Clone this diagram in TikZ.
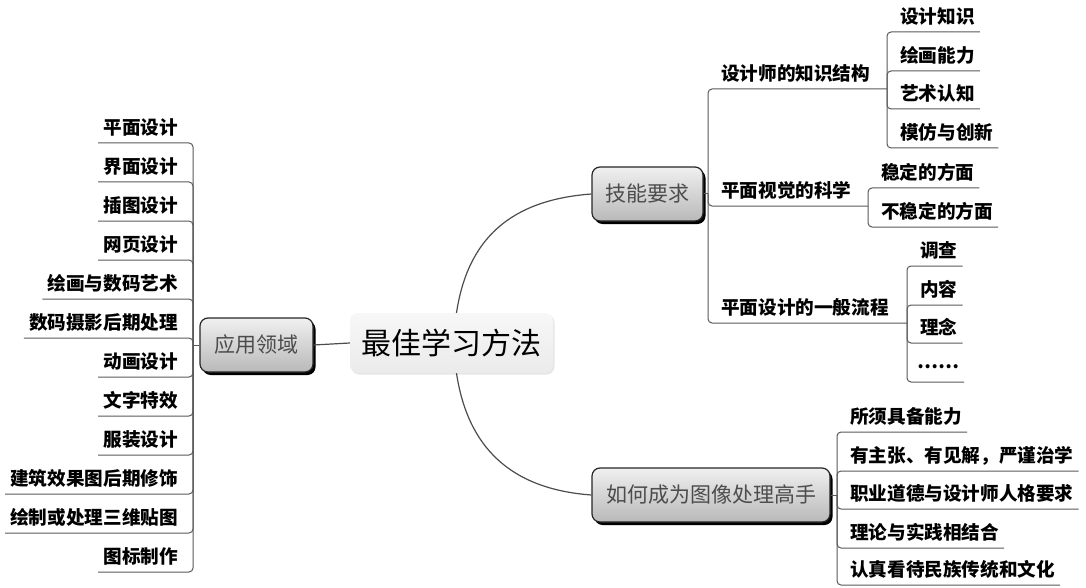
\documentclass[tikz,border=0pt]{standalone}
\usepackage{fontspec}
\newfontfamily\cjk{Noto Sans CJK SC}
\usetikzlibrary{shadows}
\tikzset{
  leaf/.style={font=\cjk\bfseries\fontsize{18.6}{20}\selectfont, inner xsep=5pt, inner ysep=4pt, text height=14pt, text depth=4pt},
  branch/.style={draw=black!65, line width=1pt, rounded corners=4pt},
  link/.style={draw=black!70, line width=1.2pt},
  topic/.style={font=\cjk\fontsize{21}{23}\selectfont, text=black!70, rounded corners=8pt, draw=black!85, line width=1.2pt,
    top color=gray!12, bottom color=gray!55, minimum height=54pt,
    drop shadow={shadow xshift=2.5pt, shadow yshift=-3pt, fill=black, opacity=1}},
  central/.style={font=\cjk\fontsize{30}{32}\selectfont, rounded corners=8pt, top color=gray!6, bottom color=gray!16,
    minimum width=203pt, minimum height=60pt,
    drop shadow={shadow xshift=1.5pt, shadow yshift=-1.5pt, opacity=.2}}
}
\begin{document}
\begin{tikzpicture}[x=1pt,y=-1pt]
  \useasboundingbox (0,0) rectangle (1086,588);
  \node[central] (zui) at (451.5,343) {最佳学习方法};
  \node[topic, minimum width=113pt] (yy) at (256.5,345) {应用领域};
  \node[topic, minimum width=111pt] (jn) at (647.5,194) {技能要求};
  \node[topic, minimum width=238pt] (gs) at (711,495) {如何成为图像处理高手};
  \draw[link] (yy.east) -- (zui.west);
  \draw[link] ([xshift=5pt]zui.north) .. controls +(11,-73) and +(-82,6) .. (jn.west);
  \draw[link] ([xshift=5pt]zui.south) .. controls +(11,73) and +(-82,-6) .. (gs.west);
  % 应用领域
  \coordinate (yyj) at (193,345);
  \node[leaf, anchor=south east] (a1) at (183,143) {平面设计};
  \node[leaf, anchor=south east] (a2) at (183,182) {界面设计};
  \node[leaf, anchor=south east] (a3) at (183,221) {插图设计};
  \node[leaf, anchor=south east] (a4) at (183,260) {网页设计};
  \node[leaf, anchor=south east] (a5) at (183,299) {绘画与数码艺术};
  \node[leaf, anchor=south east] (a6) at (183,338) {数码摄影后期处理};
  \node[leaf, anchor=south east] (a7) at (183,377) {动画设计};
  \node[leaf, anchor=south east] (a8) at (183,416) {文字特效};
  \node[leaf, anchor=south east] (a9) at (183,455) {服装设计};
  \node[leaf, anchor=south east] (a10) at (183,494) {建筑效果图后期修饰};
  \node[leaf, anchor=south east] (a11) at (183,533) {绘制或处理三维贴图};
  \node[leaf, anchor=south east] (a12) at (183,572) {图标制作};
  \draw[branch] (yy.west) -- (yyj);
  \draw[branch] (yyj) |- (a1.south west);
  \draw[branch] (yyj) |- (a2.south west);
  \draw[branch] (yyj) |- (a3.south west);
  \draw[branch] (yyj) |- (a4.south west);
  \draw[branch] (yyj) |- (a5.south west);
  \draw[branch] (yyj) |- (a6.south west);
  \draw[branch] (yyj) |- (a7.south west);
  \draw[branch] (yyj) |- (a8.south west);
  \draw[branch] (yyj) |- (a9.south west);
  \draw[branch] (yyj) |- (a10.south west);
  \draw[branch] (yyj) |- (a11.south west);
  \draw[branch] (yyj) |- (a12.south west);
  % 技能要求
  \coordinate (jnj) at (708,194);
  \coordinate (kj) at (887,89);
  \coordinate (vj) at (868,206);
  \coordinate (pj) at (907,323);
  \node[leaf, anchor=south west] (k) at (716,89) {设计师的知识结构};
  \node[leaf, anchor=south west] (v) at (716,206) {平面视觉的科学};
  \node[leaf, anchor=south west] (p) at (716,323) {平面设计的一般流程};
  \draw[branch] (jn.east) -- (jnj);
  \draw[branch] (jnj) |- (kj);
  \draw[branch] (jnj) |- (vj);
  \draw[branch] (jnj) |- (pj);
  \node[leaf, anchor=south west] (k1) at (895,32) {设计知识};
  \node[leaf, anchor=south west] (k2) at (895,71) {绘画能力};
  \node[leaf, anchor=south west] (k3) at (895,109) {艺术认知};
  \node[leaf, anchor=south west] (k4) at (895,148) {模仿与创新};
  \draw[branch] (kj) |- (k1.south east);
  \draw[branch] (kj) |- (k2.south east);
  \draw[branch] (kj) |- (k3.south east);
  \draw[branch] (kj) |- (k4.south east);
  \node[leaf, anchor=south west] (v1) at (876,188) {稳定的方面};
  \node[leaf, anchor=south west] (v2) at (876,227) {不稳定的方面};
  \draw[branch] (vj) |- (v1.south east);
  \draw[branch] (vj) |- (v2.south east);
  \node[leaf, anchor=south west] (p1) at (915,266) {调查};
  \node[leaf, anchor=south west] (p2) at (915,305) {内容};
  \node[leaf, anchor=south west] (p3) at (915,343) {理念};
  \node[leaf, anchor=south west] (p4) at (912,382) {\raisebox{5pt}{……}};
  \draw[branch] (pj) |- (p1.south east);
  \draw[branch] (pj) |- (p2.south east);
  \draw[branch] (pj) |- (p3.south east);
  \draw[branch] (pj) |- (p4.south east);
  % 如何成为图像处理高手
  \coordinate (gsj) at (837,495);
  \node[leaf, anchor=south west] (h1) at (845,432) {所须具备能力};
  \node[leaf, anchor=south west] (h2) at (845,471) {有主张、有见解，严谨治学};
  \node[leaf, anchor=south west] (h3) at (845,509) {职业道德与设计师人格要求};
  \node[leaf, anchor=south west] (h4) at (845,548) {理论与实践相结合};
  \node[leaf, anchor=south west] (h5) at (845,585) {认真看待民族传统和文化};
  \draw[branch] (gs.east) -- (gsj);
  \draw[branch] (gsj) |- (h1.south east);
  \draw[branch] (gsj) |- (h2.south east);
  \draw[branch] (gsj) |- (h3.south east);
  \draw[branch] (gsj) |- (h4.south east);
  \draw[branch] (gsj) |- (h5.south east);
\end{tikzpicture}
\end{document}
